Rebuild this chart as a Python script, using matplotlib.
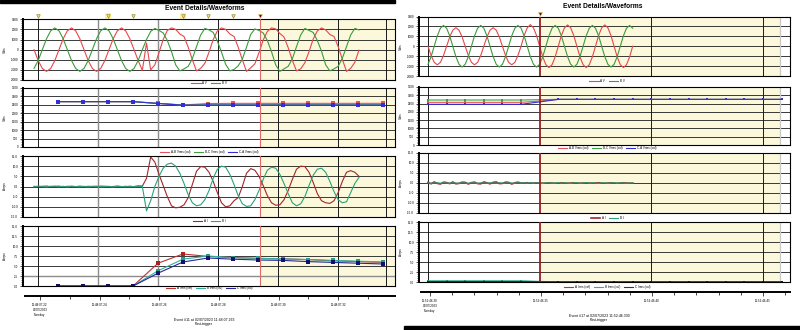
import numpy as np
import matplotlib
matplotlib.use('Agg')
import matplotlib.pyplot as plt
from matplotlib.ticker import MultipleLocator, AutoMinorLocator, FormatStrFormatter

plt.rcParams['font.family'] = ['Liberation Sans', 'DejaVu Sans']

W, H = 800, 330
SAMPLE_MS = 1000.0 / 60 / 12   # 12 samples per 60 Hz cycle

# ---------------- event #11 ----------------
# times in ms from 11:48:07.22
ev11_t0 = -1.33
ev11_av = [0, -1075, -1860, -2150, -1860, -1075, 0, 1075, 1860, 2150, 1860, 1075,
           0, -1075, -1860, -2150, -1860, -1075, 0, 1075, 1860, 2150, 1860, 1075,
           0, -1075, -2050,
           650, -2000, -1500, -300, 1000, 1900, 2150, 2000, 1550, 1300, 250, -1000,
           -2100, -1850, -1350, -250, 1000, 1850, 2150, 2000, 1550, 1300, 250, -1000,
           -2150, -1800, -1400, -300, 950, 1800, 2150, 2050, 1600, 1250, 200, -1050,
           -2100, -1900, -1300, -200, 1050, 1850, 2150, 1950, 1500, 1300, 300, -950,
           -2150, -1850, -1250, -50]
ev11_bv = [-1860, -1075, 0, 1075, 1860, 2150, 1860, 1075, 0, -1075, -1860, -2150,
           -1860, -1075, 0, 1075, 1860, 2150, 1860, 1075, 0, -1075, -1860, -2150,
           -1860, -1075, 0,
           1000, 1800,
           2100, 1900, 1650, 900, -200, -1500, -2100, -1900, -1650, -900, 300, 1450,
           2100, 1950, 1700, 850, -250, -1450, -2100, -1950, -1600, -950, 250, 1500,
           2050, 1900, 1650, 900, -200, -1500, -2150, -1900, -1650, -900, 300, 1450,
           2100, 1900, 1700, 900, -150, -1500, -2100, -1900, -1650, -850, 300, 1450,
           2100, 1950]
ev11_ai = [0.1, -0.2, 0.1, 0.2, -0.1, 0.0, 0.2, -0.2, 0.1, 0.0, -0.1, 0.2, -0.1,
           0.1, 0.0, -0.2, 0.2, 0.1, -0.1, 0.0, 0.2, -0.1, 0.1, -0.2, 0.0, 0.3, 0.2,
           4.0, 14.5, 12.0, 6.0, 0.5, -5.0, -9.5, -10.5, -10.2, -9.0, -5.5, 1.0,
           7.5, 9.8, 9.5, 7.0, 2.5, -3.0, -8.0, -10.0, -9.5, -7.0, -5.5, 0.0,
           6.5, 8.8, 8.0, 5.0, 0.5, -4.5, -8.0, -9.2, -9.0, -6.5, -2.0, 3.5,
           8.5, 10.0, 9.8, 7.0, 2.0, -3.5, -7.0, -8.0, -8.3, -7.0, -3.0, 2.5,
           7.0, 7.8, 7.0, 5.0]
ev11_bi = [-0.1, 0.2, 0.0, -0.2, 0.1, 0.2, -0.1, 0.1, -0.2, 0.2, 0.0, -0.1, 0.1,
           -0.2, 0.1, 0.2, -0.1, 0.0, 0.1, -0.2, 0.1, 0.0, -0.1, 0.2, -0.1, 0.1, 0.0,
           -12.0, -7.0, 0.0, 5.0, 9.0, 11.0, 11.5, 10.0, 6.5, 1.5, -4.0, -8.0,
           -9.5, -9.0, -6.5, -2.0, 4.0, 8.5, 10.0, 9.5, 6.0, 1.0, -4.5, -8.5,
           -9.8, -9.5, -6.5, -2.0, 3.5, 8.0, 9.5, 9.0, 6.0, 1.5, -3.5, -8.0,
           -9.5, -8.5, -5.0, 0.5, 5.5, 8.5, 9.0, 7.0, 2.5, -2.5, -6.5, -8.0,
           -7.5, -3.0, 1.5, 4.5]
ev11_rms_t = [6.7, 15.0, 23.3, 31.7, 40.0, 48.3, 56.7, 65.0, 73.3, 81.7, 90.0, 98.3, 106.7, 115.0]
ev11_vab = [2690, 2690, 2690, 2690, 2590, 2490, 2580, 2590, 2590, 2590, 2590, 2590, 2590, 2590]
ev11_vbc = [2690, 2690, 2690, 2690, 2590, 2490, 2500, 2500, 2500, 2500, 2500, 2500, 2500, 2500]
ev11_vca = [2690, 2690, 2690, 2690, 2580, 2480, 2490, 2490, 2490, 2490, 2490, 2490, 2490, 2490]
ev11_ia = [0, 0, 0, 0, 5.7, 8.0, 7.4, 7.1, 6.9, 6.8, 6.6, 6.3, 6.1, 5.9]
ev11_ib = [0, 0, 0, 0, 3.8, 6.7, 7.5, 7.1, 6.9, 6.8, 6.6, 6.4, 6.2, 6.0]
ev11_ic = [0, 0, 0, 0, 3.2, 6.0, 7.0, 6.7, 6.5, 6.4, 6.1, 5.9, 5.7, 5.5]
ev11_flags = [0, 23.3, 31.7, 48.3, 56.7, 65.0]
ev11_flags_marked = [23.3, 48.3]
ev11_trigger = 74.0
ev11_ticks = [0, 20, 40, 60, 80, 100]
ev11_minor = [10, 30, 50, 70, 90, 110]
ev11_labels = ['11:48:07.22\n02/07/2023\nTuesday', '11:48:07.24', '11:48:07.26',
               '11:48:07.28', '11:48:07.30', '11:48:07.32']

# ---------------- event #17 ----------------
# times in ms from 11:52:46.30
ev17_t0 = 0.0
ev17_av = [0, -935, -1620, -1870, -1620, -935, 0, 935, 1620, 1870, 1620, 935,
           0, -935, -1620, -1870, -1620, -935, 0, 935, 1620, 1870, 1620, 935,
           0, -935, -1620, -1870, -1620, -935, 0,
           1075, 1860, 2180, 1860, 1075, 0, -1075, -1860, -2150, -1860, -1075,
           0, 1075, 1860, 2150, 1860, 1075, 0, -1075, -1860, -2150, -1860, -1075,
           0, 1075, 1860, 2150, 1860, 1075, 0, -1075, -1860, -2150, -1860, -1075, 0]
ev17_bv = [-1820, -1050, 0, 1050, 1820, 2100, 1820, 1050, 0, -1050, -1820, -2100,
           -1820, -1050, 0, 1050, 1820, 2100, 1820, 1050, 0, -1050, -1820, -2100,
           -1820, -1050, 0, 1050, 1820, 2100, 1820, 1050, 0, -1050, -1820, -2100,
           -1820, -1050, 0, 1050, 1820, 2100, 1820, 1050, 0, -1050, -1820, -2100,
           -1820, -1050, 0, 1050, 1820, 2100, 1820, 1050, 0, -1050, -1820, -2100,
           -1820, -1050, 0, 1050, 1820, 2100, 1820]
ev17_ai = [0.3, -0.4, 0.5, -0.2, -0.5, 0.4, 0.2, -0.3, 0.5, -0.4, -0.2, 0.4, 0.3,
           -0.5, 0.2, 0.4, -0.3, -0.4, 0.5, 0.1, -0.4, 0.3, 0.5, -0.3, -0.2, 0.4,
           0.3, -0.5, 0.1, 0.4, 0.0,
           0.0, 0.1, -0.1, 0.0, 0.1, 0.0, -0.1, 0.0, 0.1, 0.0, -0.1, 0.0,
           0.1, 0.0, -0.1, 0.0, 0.1, 0.0, -0.1, 0.0, 0.1, 0.0, -0.1, 0.0,
           0.1, 0.0, -0.1, 0.0, 0.1, 0.0, -0.1, 0.0, 0.1, 0.0, -0.1, 0.0]
ev17_bi = [0.1, -0.1, 0.0, 0.1, -0.1, 0.1, 0.0, -0.1, 0.1, 0.0, -0.1, 0.1,
           0.0, -0.1, 0.1, 0.0, -0.1, 0.1, 0.0, -0.1, 0.1, 0.0, -0.1, 0.1,
           0.0, -0.1, 0.1, 0.0, -0.1, 0.1, 0.0, 0.1, -0.1, 0.2, -0.1, 0.1,
           0.0, -0.2, 0.1, 0.1, -0.1, 0.0, 0.2, -0.1, 0.1, 0.0, -0.2, 0.1,
           0.1, -0.1, 0.0, 0.2, -0.1, 0.1, 0.0, -0.2, 0.1, 0.1, -0.1, 0.0,
           0.2, -0.1, 0.1, 0.0, -0.1, 0.1, 0.0]
ev17_rms_t = [0, 8.3, 16.7, 25.0, 33.3, 41.7, 50.0, 58.3, 66.7, 75.0, 83.3, 91.7,
              100.0, 108.3, 116.7, 125.0, 133.3, 141.7, 150.0, 158.3]
ev17_vab = [2575, 2575, 2575, 2575, 2575, 2575, 2650, 2750, 2750, 2750, 2750, 2750,
            2750, 2750, 2750, 2750, 2750, 2750, 2750, 2750]
ev17_vbc = [2715, 2715, 2715, 2715, 2715, 2715, 2735, 2755, 2755, 2755, 2755, 2755,
            2755, 2755, 2755, 2755, 2755, 2755, 2755, 2755]
ev17_vca = [2455, 2455, 2455, 2455, 2455, 2455, 2600, 2755, 2755, 2755, 2755, 2755,
            2755, 2755, 2755, 2755, 2755, 2755, 2755, 2755]
ev17_ia = [0.15, 0.15, 0.15, 0.15, 0.15, 0.15, 0.1, 0.05, 0.05, 0.05, 0.05, 0.05,
           0.05, 0.05, 0.05, 0.05, 0.05, 0.05, 0.05, 0.05]
ev17_ib = [0.3, 0.3, 0.3, 0.3, 0.3, 0.3, 0.15, 0.05, 0.05, 0.05, 0.05, 0.05,
           0.05, 0.05, 0.05, 0.05, 0.05, 0.05, 0.05, 0.05]
ev17_ic = [0.1, 0.1, 0.1, 0.1, 0.1, 0.1, 0.08, 0.05, 0.05, 0.05, 0.05, 0.05,
           0.05, 0.05, 0.05, 0.05, 0.05, 0.05, 0.05, 0.05]
ev17_flags = []
ev17_flags_marked = []
ev17_trigger = 50.0
ev17_ticks = [0, 50, 100, 150]
ev17_minor = [10, 20, 30, 40, 60, 70, 80, 90, 110, 120, 130, 140, 160]
ev17_labels = ['11:52:46.30\n02/07/2023\nTuesday', '11:52:46.35', '11:52:46.40', '11:52:46.45']

# colours
C_AV, C_BV = '#e5484d', '#3c9b3c'
C_VAB, C_VBC, C_VCA = '#e8505a', '#40a040', '#3030d8'
C_AI, C_BI = '#a3262b', '#2aa37a'
C_IA, C_IB, C_IC = '#c0302f', '#30b09a', '#28289a'
YELLOW = '#fcf8dc'
GRID = '#1a1a1a'
GREY = '#8c8c8c'
TXT = 2.2

fig = plt.figure(figsize=(W / 100, H / 100), dpi=100)
fig.patch.set_facecolor('white')


def box(x0, y0, x1, y1):
    return [x0 / W, 1 - y1 / H, (x1 - x0) / W, (y1 - y0) / H]


def fx(x):
    return x / W


def fy(y):
    return 1 - y / H


def panel(rect, xlim, ylim, ystep, fmt, vlines, shade, trig, trig_style):
    ax = fig.add_axes(box(*rect))
    ax.set_xlim(*xlim)
    ax.set_ylim(*ylim)
    ax.set_axisbelow(True)
    ax.axvspan(shade[0], shade[1], color=YELLOW, lw=0, zorder=0.1)
    for x, c, lw in vlines:
        ax.axvline(x, color=c, lw=lw, zorder=0.8)
    ax.axvline(trig, color=trig_style[0], lw=trig_style[1], zorder=3)
    ax.yaxis.set_major_locator(MultipleLocator(ystep))
    ax.yaxis.set_minor_locator(AutoMinorLocator(5))
    ax.yaxis.set_major_formatter(FormatStrFormatter(fmt))
    ax.grid(axis='y', which='major', color=GRID, lw=0.6)
    ax.set_xticks([])
    ax.tick_params(axis='y', which='major', length=2.5, width=0.5, labelsize=TXT, pad=1)
    ax.tick_params(axis='y', which='minor', length=1.3, width=0.4)
    for s in ax.spines.values():
        s.set_linewidth(0.8)
    ax.spines['left'].set_linewidth(1.4)
    return ax


def legend(ax, handles, cx, cy):
    ax.legend(handles=handles, loc='center', bbox_to_anchor=(fx(cx), fy(cy)),
              bbox_transform=fig.transFigure, ncol=len(handles), fontsize=TXT,
              frameon=False, handlelength=3, handletextpad=0.6, columnspacing=1.2,
              borderpad=0, borderaxespad=0)


def time_axis(x0, x1, y, xlim, ticks, minor, labels):
    ax = fig.add_axes(box(x0, y - 1, x1, y))
    ax.set_xlim(*xlim)
    ax.set_ylim(0, 1)
    ax.patch.set_visible(False)
    for s in ['top', 'left', 'right']:
        ax.spines[s].set_visible(False)
    ax.spines['bottom'].set_linewidth(1.4)
    ax.set_yticks([])
    ax.set_xticks(ticks)
    ax.set_xticklabels(labels, linespacing=1.3)
    ax.set_xticks(minor, minor=True)
    ax.tick_params(axis='x', which='major', length=3, width=0.5, labelsize=TXT, pad=2)
    ax.tick_params(axis='x', which='minor', length=2, width=0.5)


def event_block(d):
    x0, x1 = d['x']
    tw = d['t0'] + np.arange(len(d['av'])) * SAMPLE_MS

    # voltage waveforms
    ax1 = panel((x0, d['rows'][0][0], x1, d['rows'][0][1]), d['xlim'], (-3000, 3000), 1000, '%d',
                d['vlines'], d['shade'], d['trig'], d['trig_style'])
    la, = ax1.plot(tw, d['av'], color=C_AV, lw=0.8, label='A V', zorder=2)
    lb, = ax1.plot(tw, d['bv'], color=C_BV, lw=0.8, label='B V', zorder=2)
    legend(ax1, [la, lb], d['leg_x'], d['legs'][0])

    # event flags above the first panel
    top = d['rows'][0][0]
    h = d['rows'][0][1] - top
    yf = 1 + (top - d['flag_y']) / h
    xt = ax1.get_xaxis_transform()
    if d['flags_marked']:
        ax1.plot(d['flags_marked'], [yf] * len(d['flags_marked']), 's', transform=xt,
                 clip_on=False, ms=4.5, color='#fbf2a8', mew=0)
    if d['flags']:
        ax1.plot(d['flags'], [yf] * len(d['flags']), 'v', transform=xt,
                 clip_on=False, ms=2.6, mfc='#f0de6e', mec='#8a7a20', mew=0.4)
    ax1.plot([d['trig']], [yf], 'v', transform=xt, clip_on=False,
             ms=2.8, mfc='#5a1010', mec='#e8d060', mew=0.4)

    # RMS voltages
    ax2 = panel((x0, d['rows'][1][0], x1, d['rows'][1][1]), d['xlim'], (0, 3500), 500, '%d',
                d['vlines'], d['shade'], d['trig'], d['trig_style'])
    hs = []
    for vals, c, name in [(d['vab'], C_VAB, 'A-B Vrms (cal)'), (d['vbc'], C_VBC, 'B-C Vrms (cal)'),
                          (d['vca'], C_VCA, 'C-A Vrms (cal)')]:
        l, = ax2.plot(d['rms_t'], vals, color=c, lw=0.8, label=name, zorder=2)
        ax2.plot(d['rms_t'], vals, 's', color=c, ms=d['ms'], mew=0, zorder=2)
        hs.append(l)
    legend(ax2, hs, d['leg_x'], d['legs'][1])

    # current waveforms
    ax3 = panel((x0, d['rows'][2][0], x1, d['rows'][2][1]), d['xlim'], (-15, 15), 5, '%.1f',
                d['vlines'], d['shade'], d['trig'], d['trig_style'])
    la, = ax3.plot(tw, d['ai'], color=C_AI, lw=d['ai_lw'], label='A I', zorder=2)
    lb, = ax3.plot(tw, d['bi'], color=C_BI, lw=0.8, label='B I', zorder=2)
    legend(ax3, [la, lb], d['leg_x'], d['legs'][2])

    # RMS currents
    ax4 = panel((x0, d['rows'][3][0], x1, d['rows'][3][1]), d['xlim'], (0, 15), 2.5, '%.1f',
                d['vlines'], d['shade'], d['trig'], d['trig_style'])
    if d['grey_2p5']:
        ax4.axhline(2.5, color=GREY, lw=1.0, zorder=0.6)
    hs = []
    for vals, c, mc, name in [(d['ia'], C_IA, '#b02020', 'A Irms (cal)'),
                              (d['ib'], C_IB, '#20a080', 'B Irms (cal)'),
                              (d['ic'], C_IC, '#101070', 'C Irms (cal)')]:
        l, = ax4.plot(d['rms_t'], vals, color=c, lw=0.8, label=name, zorder=2)
        ax4.plot(d['rms_t'], vals, 's', color=mc, ms=d['ms'], mew=0, zorder=2)
        hs.append(l)
    legend(ax4, hs, d['leg_x'], d['legs'][3])

    for (r0, r1), lab in zip(d['rows'], ['Volts', 'Volts', 'Amps', 'Amps']):
        fig.text(fx(d['ylab_x']), fy((r0 + r1) / 2), lab, rotation=90, fontsize=TXT,
                 ha='center', va='center')

    time_axis(x0 + 2, x1, d['axis_y'], d['xlim'], d['ticks'], d['minor'], d['labels'])

    fig.text(fx(d['cap_x']), fy(d['cap_y']), d['caption'], fontsize=2.5, ha='center', va='center')
    fig.text(fx(d['cap_x']), fy(d['cap_y'] + 4), 'Post-trigger', fontsize=2.5, ha='center', va='center')
    fig.text(fx(d['title_x']), fy(d['title_y']), 'Event Details/Waveforms', fontsize=4.8,
             fontweight='bold', ha='center', va='center')


left = dict(
    x=(23, 395), t0=ev11_t0, xlim=(-5.0, 119.0),
    av=ev11_av, bv=ev11_bv, ai=ev11_ai, bi=ev11_bi, ai_lw=0.8,
    rms_t=ev11_rms_t, vab=ev11_vab, vbc=ev11_vbc, vca=ev11_vca,
    ia=ev11_ia, ib=ev11_ib, ic=ev11_ic, ms=2.4,
    rows=[(19.3, 80), (88, 147), (156, 217), (226, 286)],
    legs=[83, 152, 221, 288], leg_x=209,
    vlines=[(0, GRID, 0.7), (20, GREY, 1.0), (40, GREY, 1.0), (60, GRID, 0.7),
            (80, GRID, 0.7), (100, GRID, 0.7), (116, GRID, 0.7)],
    shade=(ev11_trigger, 119.0), trig=ev11_trigger, trig_style=('#e06a6a', 0.8),
    flags=ev11_flags, flags_marked=ev11_flags_marked, flag_y=15.5, grey_2p5=True,
    ylab_x=5, axis_y=296, ticks=ev11_ticks, minor=ev11_minor, labels=ev11_labels,
    cap_x=204, cap_y=320, caption='Event #11 at 02/07/2023 11:48:07.263',
    title_x=205, title_y=9,
)

right = dict(
    x=(419, 790), t0=ev17_t0, xlim=(-4.03, 162.1),
    av=ev17_av, bv=ev17_bv, ai=ev17_ai, bi=ev17_bi, ai_lw=1.2,
    rms_t=ev17_rms_t, vab=ev17_vab, vbc=ev17_vbc, vca=ev17_vca,
    ia=ev17_ia, ib=ev17_ib, ic=ev17_ic, ms=2.0,
    rows=[(16.5, 76), (87, 145), (153, 213), (222, 282)],
    legs=[81, 148, 218, 287], leg_x=607,
    vlines=[(0, GRID, 0.7), (100, GRID, 0.7), (150, GRID, 0.7), (157.7, '#c8c8c8', 0.9)],
    shade=(ev17_trigger, 157.7), trig=ev17_trigger, trig_style=('#9b2020', 1.3),
    flags=ev17_flags, flags_marked=ev17_flags_marked, flag_y=13.5, grey_2p5=False,
    ylab_x=401, axis_y=292, ticks=ev17_ticks, minor=ev17_minor, labels=ev17_labels,
    cap_x=599, cap_y=316, caption='Event #17 at 02/07/2023 11:52:46.330',
    title_x=603, title_y=6,
)

event_block(left)
event_block(right)

# screenshot edge bars
fig.patches.append(plt.Rectangle((0, fy(3)), fx(395), 3 / H, transform=fig.transFigure,
                                 color='black', zorder=5))
fig.patches.append(plt.Rectangle((fx(404), 0), fx(396), 4 / H, transform=fig.transFigure,
                                 color='black', zorder=5))

fig.savefig('out.png', dpi=100, facecolor='white')
